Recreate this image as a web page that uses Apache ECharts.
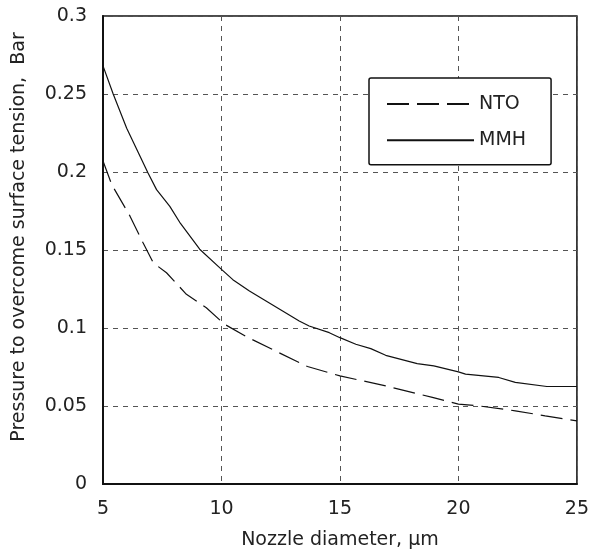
<!DOCTYPE html>
<html>
<head>
<meta charset="utf-8">
<script src="https://cdn.jsdelivr.net/npm/echarts@6/dist/echarts.min.js"></script>
<style>
html,body{margin:0;padding:0;background:#fff;}
#chart{width:592px;height:555px;}
</style>
</head>
<body>
<div id="chart"></div>
<script>
const seriesNames = ['NTO', 'MMH'];
const xNTO = [5, 5.37, 6.14, 6.69, 7.12, 7.68, 8.52, 9.36, 10.13, 11.04, 12.37, 13.63, 15, 16.93, 18.9, 20, 20.85, 22.4, 23.66, 25];
const yNTO = [0.207, 0.1919, 0.1717, 0.1546, 0.1418, 0.1354, 0.1216, 0.113, 0.1024, 0.0945, 0.0846, 0.0753, 0.0693, 0.0629, 0.0555, 0.0512, 0.0501, 0.0469, 0.0437, 0.0405];
const xMMH = [5, 5.43, 6.0, 6.9, 7.26, 7.82, 8.27, 9.08, 10, 10.48, 11.18, 11.88, 12.58, 13.28, 13.7, 14.55, 15, 15.67, 16.3, 16.93, 18.26, 18.96, 20, 20.3, 21.7, 22.4, 23.73, 25];
const yMMH = [0.268, 0.25, 0.228, 0.1994, 0.1887, 0.178, 0.167, 0.1505, 0.1376, 0.131, 0.1237, 0.1173, 0.1109, 0.1045, 0.1013, 0.097, 0.0938, 0.0896, 0.0868, 0.0825, 0.0772, 0.0757, 0.0719, 0.0704, 0.0683, 0.0651, 0.0625, 0.0625];
const xTitle = 'Nozzle diameter, \u00b5m';
const yTitle = 'Pressure to overcome surface tension,  Bar';

const pairs = (xs, ys) => xs.map((x, i) => [x, ys[i]]);
const FONT = 'DejaVu Sans';

const chart = echarts.init(document.getElementById('chart'), null, {renderer: 'canvas'});
chart.setOption({
  animation: false,
  backgroundColor: '#fff',
  textStyle: {fontFamily: FONT},
  grid: {left: 103, right: 14, top: 16, bottom: 70, show: true, borderColor: '#111', borderWidth: 1.5, containLabel: false},
  xAxis: {
    type: 'value', min: 5, max: 25, interval: 5,
    name: xTitle, nameLocation: 'middle', nameGap: 47,
    nameTextStyle: {fontFamily: FONT, fontSize: 19, color: '#222'},
    axisLine: {show: true, lineStyle: {color: '#111', width: 2}},
    axisTick: {show: false},
    axisLabel: {fontFamily: FONT, fontSize: 19, color: '#222', margin: 16},
    splitLine: {show: true, lineStyle: {color: '#555', width: 1, type: [5, 5]}}
  },
  yAxis: {
    type: 'value', min: 0, max: 0.3, interval: 0.05,
    name: yTitle, nameLocation: 'middle', nameGap: 74, nameRotate: 90,
    nameTextStyle: {fontFamily: FONT, fontSize: 19, color: '#222', padding: [0, 0, 0, 26]},
    axisLine: {show: true, lineStyle: {color: '#111', width: 2}},
    axisTick: {show: false},
    axisLabel: {fontFamily: FONT, fontSize: 19, color: '#222', margin: 16},
    splitLine: {show: true, lineStyle: {color: '#555', width: 1, type: [5, 5]}}
  },
  legend: {
    orient: 'vertical', left: 369, top: 78,
    data: seriesNames,
    itemWidth: 87, itemHeight: 20, itemGap: 17.2,
    padding: [16.5, 25, 15, 17],
    borderColor: '#111', borderWidth: 1.5, borderRadius: 2,
    backgroundColor: '#fff',
    itemStyle: {opacity: 0},
    textStyle: {fontFamily: FONT, fontSize: 19, color: '#222'}
  },
  series: [
    {name: seriesNames[0], type: 'line', data: pairs(xNTO, yNTO), symbol: 'none', smooth: false,
     lineStyle: {color: '#111', width: 1.2, type: [22, 8]}, itemStyle: {color: '#111'}},
    {name: seriesNames[1], type: 'line', data: pairs(xMMH, yMMH), symbol: 'none', smooth: false,
     lineStyle: {color: '#111', width: 1.2, type: 'solid'}, itemStyle: {color: '#111'}}
  ]
});
</script>
</body>
</html>
